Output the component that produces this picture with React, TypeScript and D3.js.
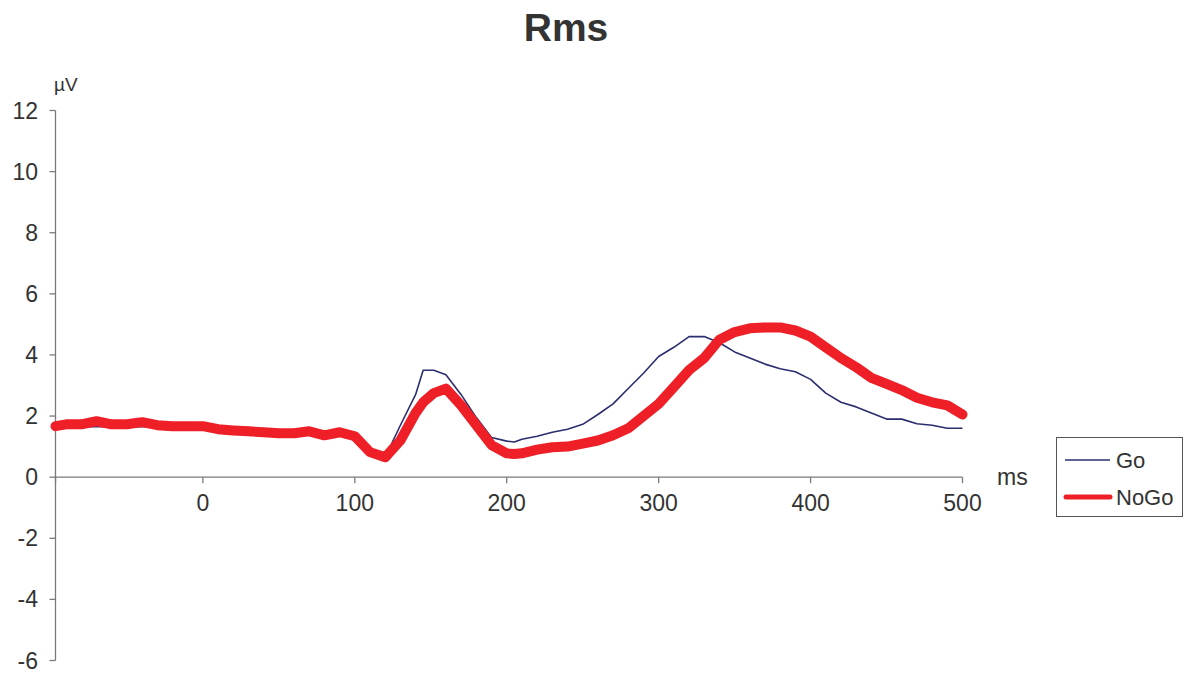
import React from "react";
import * as d3 from "d3";

const times = [-97, -90, -80, -70, -60, -50, -40, -30, -20, -10, 0, 10, 20, 30, 40, 50, 60, 70, 80, 90, 100, 110, 120, 130, 140, 145, 152, 160, 170, 180, 190, 200, 205, 210, 220, 230, 240, 250, 260, 270, 280, 290, 300, 310, 320, 330, 340, 350, 360, 370, 380, 390, 400, 410, 420, 430, 440, 450, 460, 470, 480, 490, 500];

const goValues = [1.65, 1.65, 1.65, 1.65, 1.65, 1.65, 1.65, 1.65, 1.62, 1.62, 1.6, 1.55, 1.52, 1.48, 1.45, 1.43, 1.43, 1.45, 1.38, 1.42, 1.32, 0.82, 0.65, 1.7, 2.7, 3.5, 3.5, 3.35, 2.7, 1.95, 1.3, 1.18, 1.15, 1.24, 1.34, 1.47, 1.57, 1.73, 2.05, 2.4, 2.9, 3.4, 3.95, 4.25, 4.6, 4.6, 4.4, 4.1, 3.9, 3.7, 3.55, 3.45, 3.2, 2.75, 2.45, 2.3, 2.1, 1.9, 1.9, 1.75, 1.7, 1.6, 1.6];

const noGoValues = [1.67, 1.73, 1.73, 1.83, 1.73, 1.73, 1.8, 1.7, 1.67, 1.67, 1.67, 1.57, 1.53, 1.5, 1.47, 1.44, 1.44, 1.5, 1.37, 1.47, 1.34, 0.82, 0.65, 1.2, 2.1, 2.45, 2.75, 2.9, 2.35, 1.7, 1.05, 0.78, 0.76, 0.78, 0.9, 0.98, 1.0, 1.1, 1.2, 1.37, 1.6, 2.0, 2.4, 2.95, 3.5, 3.9, 4.5, 4.75, 4.87, 4.9, 4.9, 4.8, 4.6, 4.25, 3.9, 3.6, 3.25, 3.05, 2.85, 2.6, 2.45, 2.35, 2.05];

const yTicks = [-6, -4, -2, 0, 2, 4, 6, 8, 10, 12];
const xTicks = [0, 100, 200, 300, 400, 500];

const W = 1186;
const H = 677;
const font = "'Liberation Sans', Arial, Helvetica, sans-serif";

export default function App() {
  const x = d3.scaleLinear().domain([-97, 500]).range([55.5, 962.5]);
  const y = d3.scaleLinear().domain([-6, 12]).range([660.5, 110.5]);

  const line = (vals: number[]) =>
    d3
      .line<number>()
      .x((_, i) => x(times[i]))
      .y((d) => y(d))
      .curve(d3.curveLinear)(vals) || "";

  const axisColor = "#7a7a7a";
  const textColor = "#333333";

  return (
    <svg width={W} height={H} style={{ position: "absolute", left: 0, top: 0 }}>
      <rect width={W} height={H} fill="#ffffff" />
      <text x={566} y={41} textAnchor="middle" fontFamily={font} fontWeight="bold" fontSize={39} fill={textColor}>
        Rms
      </text>
      <text x={54} y={91} fontFamily={font} fontSize={19} fill={textColor}>
        µV
      </text>
      {/* y axis */}
      <line x1={x(-97)} x2={x(-97)} y1={y(12)} y2={y(-6)} stroke={axisColor} strokeWidth={1.3} />
      {yTicks.map((t) => (
        <g key={"y" + t}>
          <line x1={x(-97) - 6} x2={x(-97)} y1={y(t)} y2={y(t)} stroke={axisColor} strokeWidth={1.3} />
          <text x={38} y={y(t) + 8} textAnchor="end" fontFamily={font} fontSize={23} fill={textColor}>
            {t}
          </text>
        </g>
      ))}
      {/* x axis */}
      <line x1={x(-97)} x2={x(500)} y1={y(0)} y2={y(0)} stroke={axisColor} strokeWidth={1.3} />
      <line x1={x(-97)} x2={x(-97)} y1={y(0)} y2={y(0) + 6} stroke={axisColor} strokeWidth={1.3} />
      {xTicks.map((t) => (
        <g key={"x" + t}>
          <line x1={x(t)} x2={x(t)} y1={y(0)} y2={y(0) + 6} stroke={axisColor} strokeWidth={1.3} />
          <text x={x(t)} y={511} textAnchor="middle" fontFamily={font} fontSize={23} fill={textColor}>
            {t}
          </text>
        </g>
      ))}
      <text x={997} y={485} fontFamily={font} fontSize={23} fill={textColor}>
        ms
      </text>
      {/* series */}
      <path d={line(goValues)} fill="none" stroke="#2b2d6e" strokeWidth={1.6} strokeLinejoin="round" />
      <path d={line(noGoValues)} fill="none" stroke="#ee1f26" strokeWidth={10} strokeLinejoin="round" strokeLinecap="round" />
      {/* legend */}
      <rect x={1056.5} y={437.5} width={126} height={79} fill="#ffffff" stroke="#555555" strokeWidth={1} />
      <line x1={1065} x2={1110} y1={460} y2={460} stroke="#2b2d6e" strokeWidth={1.6} />
      <text x={1116} y={468} fontFamily={font} fontSize={22} fill={textColor}>
        Go
      </text>
      <line x1={1066} x2={1110} y1={497} y2={497} stroke="#ee1f26" strokeWidth={5} strokeLinecap="round" />
      <text x={1116} y={505} fontFamily={font} fontSize={22} fill={textColor}>
        NoGo
      </text>
    </svg>
  );
}
